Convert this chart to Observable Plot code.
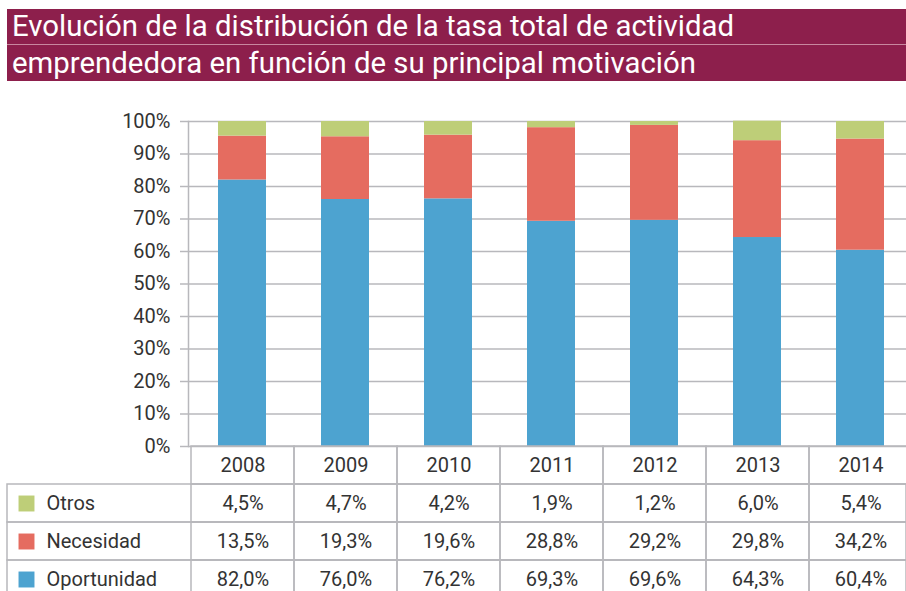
<!DOCTYPE html>
<html><head><meta charset="utf-8">
<script src="https://cdn.jsdelivr.net/npm/d3@7"></script>
<script src="https://cdn.jsdelivr.net/npm/@observablehq/plot@0.6"></script>
<style>
html,body{margin:0;padding:0;background:#fff;width:906px;height:591px;overflow:hidden;}
#wrap{position:relative;width:906px;height:591px;overflow:hidden;}
.stripe{position:absolute;left:7px;right:0;background:#8D1F4C;color:#fff;font-family:Roboto, sans-serif;font-size:29px;white-space:nowrap;overflow:hidden;}
.stripe span{display:inline-block;position:absolute;left:5px;transform-origin:0 50%;}
#s1{top:9px;height:35px;line-height:35px;}
#s2{top:45px;height:36px;line-height:36px;}
#sep{position:absolute;left:7px;right:0;top:44px;height:1px;background:#C8889F;}
#chart{position:absolute;left:0;top:100px;}
#table{position:absolute;left:0;top:440px;}
</style>
</head><body>
<div id="wrap">
  <div class="stripe" id="s1"><span id="t1">Evolución de la distribución de la tasa total de actividad</span></div>
  <div id="sep"></div>
  <div class="stripe" id="s2"><span id="t2">emprendedora en función de su principal motivación</span></div>
  <div id="chart"></div>
  <div id="table"></div>
</div>
<script>
// ---- data ----
const years = ["2008", "2009", "2010", "2011", "2012", "2013", "2014"];
const otros = [4.5, 4.7, 4.2, 1.9, 1.2, 6.0, 5.4];
const necesidad = [13.5, 19.3, 19.6, 28.8, 29.2, 29.8, 34.2];
const oportunidad = [82.0, 76.0, 76.2, 69.3, 69.6, 64.3, 60.4];
const series = ["Oportunidad", "Necesidad", "Otros"];       // stack order bottom -> top
const tableRows = ["Otros", "Necesidad", "Oportunidad"];    // table order
const headerRow = "Año";
const yTicks = [0, 10, 20, 30, 40, 50, 60, 70, 80, 90, 100];
const colors = ["#4DA3D0", "#E56C60", "#BECE78"];

const valuesBySeries = {Oportunidad: oportunidad, Necesidad: necesidad, Otros: otros};
const records = [];
years.forEach((yr, i) => {
  series.forEach(s => records.push({year: yr, serie: s, value: valuesBySeries[s][i]}));
});

const gridColor = "#B8B8BC";
const textColor = "#333333";
const font = "Roboto, sans-serif";
const xRange = [188, 914.6];
const fmt = v => v.toFixed(1).replace(".", ",") + "%";

// ---- chart ----
const chart = Plot.plot({
  width: 906, height: 366,
  marginTop: 21, marginBottom: 20, marginLeft: 188, marginRight: 0,
  style: {fontFamily: font, fontSize: "20px", color: textColor, background: "transparent"},
  x: {type: "band", domain: years, range: xRange, paddingInner: 0.53, paddingOuter: 0.265, axis: null},
  y: {domain: [0, 100], axis: null, label: null},
  color: {domain: series, range: colors},
  marks: [
    Plot.ruleY(yTicks, {stroke: gridColor, strokeWidth: 1.5}),
    Plot.barY(records, {x: "year", y: "value", fill: "serie"}),
    Plot.frame({anchor: "left", stroke: gridColor, strokeWidth: 1.5}),
    Plot.axisY(yTicks, {tickSize: 8, tickPadding: 10, tickFormat: d => d + "%", label: null,
      stroke: gridColor, strokeWidth: 1.5, fill: textColor, fontSize: 20})
  ]
});
document.getElementById("chart").appendChild(chart);

// ---- table ----
const allRows = [headerRow, ...tableRows];
const gridCells = [];
allRows.forEach(r => years.forEach(yr => gridCells.push({row: r, year: yr})));
const tableValues = [];
tableRows.forEach(s => years.forEach((yr, i) => tableValues.push({row: s, year: yr, value: valuesBySeries[s][i]})));

const table = Plot.plot({
  width: 906, height: 165,
  marginTop: 6, marginLeft: 7, marginRight: 0, marginBottom: 0,
  style: {fontFamily: font, fontSize: "20px", color: textColor, background: "transparent"},
  x: {type: "band", domain: years, range: xRange, padding: 0, axis: null},
  y: {type: "band", domain: allRows, range: [6, 158], padding: 0, axis: null},
  color: {domain: series, range: colors},
  marks: [
    Plot.cell(tableRows, {y: d => d, fill: "none", stroke: gridColor, strokeWidth: 1.5, inset: 0}),
    Plot.cell(gridCells, {x: "year", y: "row", fill: "none", stroke: gridColor, strokeWidth: 1.5, inset: 0}),
    Plot.text(years, {x: d => d, y: () => headerRow, text: d => d, fill: textColor, fontSize: 20}),
    Plot.text(tableValues, {x: "year", y: "row", text: d => fmt(d.value), fill: textColor, fontSize: 20}),
    Plot.dot(tableRows, {y: d => d, fill: d => d, symbol: "square", r: 9, frameAnchor: "left", dx: 19}),
    Plot.text(tableRows, {y: d => d, text: d => d, frameAnchor: "left", dx: 39, textAnchor: "start", fill: textColor, fontSize: 20})
  ]
});
document.getElementById("table").appendChild(table);

// ---- condense title to match the reference width ----
const t1 = document.getElementById("t1"), t2 = document.getElementById("t2");
const w1 = t1.getBoundingClientRect().width;
const k = 722 / w1;
t1.style.transform = `scaleX(${k})`;
t2.style.transform = `scaleX(${k})`;
</script>
</body></html>
